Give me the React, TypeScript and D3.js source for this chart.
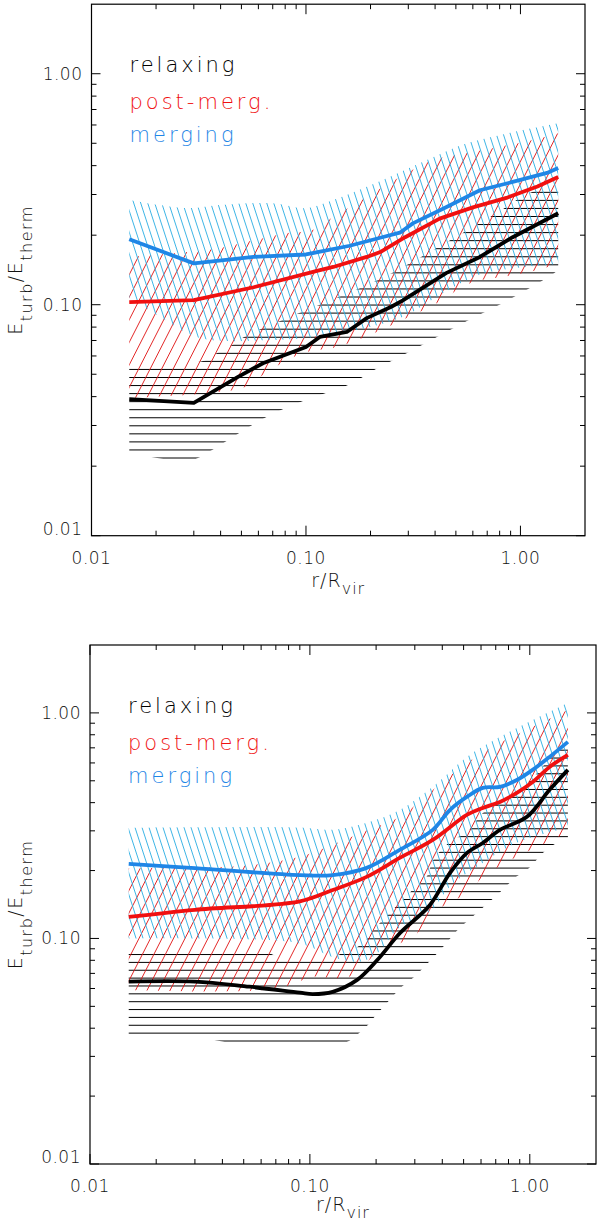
import * as d3 from 'd3';

type Pt = [number, number];

// ---- upper panel ----
const topRelaxMean: Pt[] = [[0.015,0.039],[0.03,0.0376],[0.048,0.0486],[0.063,0.0558],[0.1,0.0656],[0.116,0.0725],[0.155,0.0762],[0.192,0.0875],[0.25,0.098],[0.283,0.1045],[0.45,0.137],[0.647,0.161],[0.92,0.196],[1.5,0.249]];
const topRelaxLow: Pt[] = [[0.015,0.023],[0.0285,0.0211],[0.0365,0.0235],[0.0482,0.0276],[0.0651,0.0326],[0.0968,0.0383],[0.157,0.0449],[0.212,0.0527],[0.296,0.0618],[0.408,0.0725],[0.563,0.0851],[0.794,0.0997],[1.107,0.118],[1.449,0.138],[1.5,0.142]];
const topRelaxHigh: Pt[] = [[0.015,0.0548],[0.0331,0.0571],[0.0385,0.0618],[0.0452,0.0669],[0.0514,0.0725],[0.0757,0.0851],[0.116,0.1],[0.179,0.118],[0.2545,0.138],[0.344,0.161],[0.47,0.19],[0.736,0.242],[1.14,0.308],[1.5,0.32]];

const topPostMean: Pt[] = [[0.015,0.1027],[0.03,0.1047],[0.057,0.119],[0.1125,0.14],[0.134,0.1457],[0.192,0.161],[0.222,0.169],[0.29,0.196],[0.42,0.236],[0.6,0.264],[0.86,0.29],[1.2,0.325],[1.5,0.357]];
const topPostLow: Pt[] = [[0.015,0.0395],[0.036,0.0415],[0.052,0.044],[0.068,0.0521],[0.097,0.0618],[0.139,0.0656],[0.199,0.074],[0.283,0.086],[0.408,0.1017],[0.582,0.124],[0.83,0.132],[1.19,0.141],[1.5,0.151]];
const topPostHigh: Pt[] = [[0.015,0.161],[0.028,0.169],[0.04,0.176],[0.057,0.19],[0.081,0.204],[0.108,0.211],[0.134,0.24],[0.192,0.293],[0.274,0.357],[0.391,0.423],[0.562,0.454],[0.8,0.482],[1.14,0.517],[1.5,0.553]];

const topMergMean: Pt[] = [[0.015,0.192],[0.03,0.151],[0.057,0.161],[0.1,0.165],[0.16,0.18],[0.222,0.195],[0.274,0.205],[0.315,0.225],[0.45,0.264],[0.647,0.313],[0.92,0.34],[1.33,0.372],[1.5,0.391]];
const topMergLow: Pt[] = [[0.015,0.108],[0.022,0.086],[0.032,0.0717],[0.068,0.0703],[0.129,0.074],[0.274,0.0875],[0.42,0.11],[0.647,0.135],[1.0,0.145],[1.5,0.15]];
const topMergHigh: Pt[] = [[0.015,0.284],[0.028,0.262],[0.04,0.27],[0.07,0.275],[0.1,0.262],[0.134,0.284],[0.192,0.324],[0.274,0.375],[0.391,0.435],[0.562,0.5],[0.8,0.542],[1.14,0.582],[1.5,0.611]];

// ---- lower panel ----
const botRelaxMean: Pt[] = [[0.015,0.0644],[0.03,0.0644],[0.053,0.0611],[0.09,0.0575],[0.103,0.0567],[0.127,0.058],[0.164,0.0655],[0.202,0.08],[0.257,0.1057],[0.35,0.14],[0.433,0.195],[0.517,0.239],[0.611,0.265],[0.731,0.303],[0.97,0.346],[1.23,0.456],[1.49,0.559]];
const botRelaxLow: Pt[] = [[0.015,0.037],[0.03,0.0365],[0.054,0.0335],[0.144,0.0345],[0.167,0.038],[0.182,0.041],[0.195,0.0445],[0.226,0.0523],[0.264,0.0615],[0.294,0.0668],[0.345,0.0781],[0.402,0.0914],[0.465,0.108],[0.56,0.127],[0.73,0.16],[0.87,0.188],[0.99,0.205],[1.15,0.24],[1.3,0.262],[1.49,0.27]];
const botRelaxHigh: Pt[] = [[0.015,0.088],[0.06,0.088],[0.075,0.082],[0.12,0.081],[0.14,0.086],[0.1636,0.0914],[0.181,0.0989],[0.193,0.108],[0.208,0.117],[0.285,0.16],[0.34,0.188],[0.362,0.221],[0.419,0.26],[0.533,0.305],[0.61,0.359],[0.8,0.42],[1.0,0.5],[1.2,0.61],[1.33,0.68],[1.49,0.72]];

const botPostMean: Pt[] = [[0.015,0.1245],[0.03,0.134],[0.09,0.146],[0.127,0.164],[0.18,0.187],[0.256,0.2275],[0.362,0.2735],[0.517,0.353],[0.611,0.379],[0.731,0.403],[0.873,0.442],[1.03,0.494],[1.23,0.576],[1.49,0.651]];
const botPostLow: Pt[] = [[0.015,0.059],[0.06,0.059],[0.085,0.063],[0.1,0.0675],[0.15,0.0675],[0.2,0.085],[0.256,0.095],[0.306,0.105],[0.362,0.13],[0.517,0.159],[0.611,0.187],[0.873,0.23],[1.23,0.27],[1.49,0.294]];
const botPostHigh: Pt[] = [[0.015,0.205],[0.05,0.21],[0.09,0.23],[0.127,0.26],[0.18,0.3],[0.256,0.346],[0.362,0.455],[0.517,0.6],[0.731,0.736],[1.03,0.867],[1.49,1.03]];

const botMergMean: Pt[] = [[0.015,0.214],[0.03,0.205],[0.09,0.191],[0.127,0.191],[0.18,0.205],[0.256,0.247],[0.362,0.303],[0.433,0.371],[0.517,0.424],[0.611,0.465],[0.731,0.47],[0.873,0.504],[1.03,0.559],[1.23,0.638],[1.49,0.744]];
const botMergLow: Pt[] = [[0.015,0.1],[0.03,0.1],[0.09,0.095],[0.13,0.082],[0.17,0.079],[0.2,0.085],[0.256,0.112],[0.36,0.134],[0.43,0.169],[0.61,0.216],[0.87,0.265],[1.49,0.31]];
const botMergHigh: Pt[] = [[0.015,0.309],[0.03,0.311],[0.09,0.31],[0.127,0.303],[0.18,0.325],[0.256,0.371],[0.362,0.47],[0.517,0.638],[0.731,0.783],[1.03,0.93],[1.49,1.107]];

const legendLabels = ['relaxing', 'post-merg.', 'merging'];
const majorTicks = [0.01, 0.1, 1];
const majorTickLabels = ['0.01', '0.10', '1.00'];
const minorSteps = [2, 3, 4, 5, 6, 7, 8, 9];

const FONT = "'DejaVu Sans', sans-serif";
const BLACK = '#000000';
const RED = '#f01010';
const BLUE = '#1f86e6';
const RED_HATCH = '#e01010';
const BLUE_HATCH = '#28ade2';

interface Box { left: number; right: number; top: number; bottom: number; }

interface PanelProps {
    id: string;
    box: Box;
    smooth: boolean;
    hstep: number;
    hphase: number;
    titleGap: number;
    relax: [Pt[], Pt[], Pt[]];
    post: [Pt[], Pt[], Pt[]];
    merg: [Pt[], Pt[], Pt[]];
}

function Panel({ id, box, smooth, hstep, hphase, titleGap, relax, post, merg }: PanelProps) {
    const x = d3.scaleLog().domain([0.01, 2]).range([box.left, box.right]);
    const y = d3.scaleLog().domain([0.01, 2]).range([box.bottom, box.top]);

    const curve = smooth ? d3.curveCatmullRom.alpha(0.5) : d3.curveLinear;
    const line = d3.line<Pt>().x(d => x(d[0])).y(d => y(d[1])).curve(curve);
    const edge = d3.line<Pt>().x(d => x(d[0])).y(d => y(d[1])).curve(d3.curveCatmullRom.alpha(0.5));

    // polygon between a lower and an upper envelope
    const band = (low: Pt[], high: Pt[]) => {
        const up = edge(high) as string;
        const dn = edge([...low].reverse()) as string;
        return up + 'L' + dn.slice(1) + 'Z';
    };

    const h = box.bottom - box.top;
    const diag = (angle: number, step: number, dir: number, phase: number) => {
        const k = 1 / Math.tan(angle * Math.PI / 180);
        return d3.range(box.left - h * k - step + phase, box.right + h * k + step, step)
            .map(c => ({ x1: c, y1: box.bottom, x2: c + dir * h * k, y2: box.top }));
    };
    const horiz = d3.range(hphase, box.bottom, hstep).filter(v => v > box.top);

    const minors: number[] = [];
    [0.01, 0.1, 1].forEach(dec => minorSteps.forEach(s => { if (s * dec < 2) minors.push(s * dec); }));

    const midX = (box.left + box.right) / 2;
    const midY = (box.top + box.bottom) / 2;

    return (
        <g>
            <defs>
                <clipPath id={`${id}-relax`}><path d={band(relax[1], relax[2])} /></clipPath>
                <clipPath id={`${id}-post`}><path d={band(post[1], post[2])} /></clipPath>
                <clipPath id={`${id}-merg`}><path d={band(merg[1], merg[2])} /></clipPath>
            </defs>

            <g clipPath={`url(#${id}-relax)`} stroke={BLACK} strokeWidth={1}>
                {horiz.map((v, i) => (
                    <line key={i} x1={box.left} x2={box.right} y1={v} y2={v} />
                ))}
            </g>
            <g clipPath={`url(#${id}-post)`} stroke={RED_HATCH} strokeWidth={0.9}>
                {diag(63, 11.5, 1, 3).map((l, i) => <line key={i} {...l} />)}
            </g>
            <g clipPath={`url(#${id}-merg)`} stroke={BLUE_HATCH} strokeWidth={0.9}>
                {diag(72, 7, -1, 1).map((l, i) => <line key={i} {...l} />)}
            </g>

            <path d={line(relax[0]) as string} fill="none" stroke={BLACK} strokeWidth={3.8} strokeLinejoin="round" />
            <path d={line(post[0]) as string} fill="none" stroke={RED} strokeWidth={3.8} strokeLinejoin="round" />
            <path d={line(merg[0]) as string} fill="none" stroke={BLUE} strokeWidth={3.8} strokeLinejoin="round" />

            <rect x={box.left} y={box.top} width={box.right - box.left} height={h}
                fill="none" stroke="#000" strokeWidth={1.2} />

            <g stroke="#000" strokeWidth={1}>
                {majorTicks.map(t => (
                    <g key={`mx${t}`}>
                        <line x1={x(t)} x2={x(t)} y1={box.bottom} y2={box.bottom - 10} />
                        <line x1={x(t)} x2={x(t)} y1={box.top} y2={box.top + 10} />
                        <line y1={y(t)} y2={y(t)} x1={box.left} x2={box.left + 9} />
                        <line y1={y(t)} y2={y(t)} x1={box.right} x2={box.right - 9} />
                    </g>
                ))}
                {minors.map(t => (
                    <g key={`mn${t}`}>
                        <line x1={x(t)} x2={x(t)} y1={box.bottom} y2={box.bottom - 5} />
                        <line x1={x(t)} x2={x(t)} y1={box.top} y2={box.top + 5} />
                        <line y1={y(t)} y2={y(t)} x1={box.left} x2={box.left + 5} />
                        <line y1={y(t)} y2={y(t)} x1={box.right} x2={box.right - 5} />
                    </g>
                ))}
            </g>

            <g fontFamily={FONT} fontWeight={200} fontSize={17} letterSpacing={0.5} fill="#111">
                {majorTicks.map((t, i) => (
                    <text key={`xl${t}`} x={x(t)} y={box.bottom + 28} textAnchor="middle">{majorTickLabels[i]}</text>
                ))}
                {majorTicks.map((t, i) => (
                    <text key={`yl${t}`} x={box.left - 9} y={y(t) + (i === 0 ? -1 : 6)} textAnchor="end">{majorTickLabels[i]}</text>
                ))}
            </g>

            <text x={midX} y={box.bottom + titleGap} textAnchor="middle" fontFamily={FONT} fontWeight={200}
                fontSize={19} letterSpacing={1} fill="#111">
                r/R<tspan dy={7} fontSize={16}>vir</tspan>
            </text>
            <text transform={`translate(22,${midY}) rotate(-90)`} textAnchor="middle" fontFamily={FONT}
                fontWeight={200} fontSize={19} letterSpacing={1.5} fill="#111">
                E<tspan dy={10} fontSize={16}>turb</tspan><tspan dy={-10}>/E</tspan><tspan dy={10} fontSize={16}>therm</tspan>
            </text>

            <g fontFamily={FONT} fontWeight={200} fontSize={21} letterSpacing={3}>
                {legendLabels.map((lab, i) => (
                    <text key={lab} x={box.left + 38} y={box.top + [68, 105, 138][i]}
                        fill={[BLACK, RED, BLUE][i]}>{lab}</text>
                ))}
            </g>
        </g>
    );
}

export default function App() {
    return (
        <svg width={600} height={1225} style={{ position: 'absolute', left: 0, top: 0, background: '#fff' }}>
            <rect width={600} height={1225} fill="#fff" />
            <Panel id="top" box={{ left: 91.5, right: 585, top: 4.2, bottom: 535.7 }} smooth={false}
                hstep={8.05} hphase={458 - 56 * 8.05} titleGap={51}
                relax={[topRelaxMean, topRelaxLow, topRelaxHigh]}
                post={[topPostMean, topPostLow, topPostHigh]}
                merg={[topMergMean, topMergLow, topMergHigh]} />
            <Panel id="bot" box={{ left: 90, right: 596, top: 645, bottom: 1164 }} smooth={true}
                hstep={7.86} hphase={1041 - 50 * 7.86} titleGap={47}
                relax={[botRelaxMean, botRelaxLow, botRelaxHigh]}
                post={[botPostMean, botPostLow, botPostHigh]}
                merg={[botMergMean, botMergLow, botMergHigh]} />
        </svg>
    );
}
